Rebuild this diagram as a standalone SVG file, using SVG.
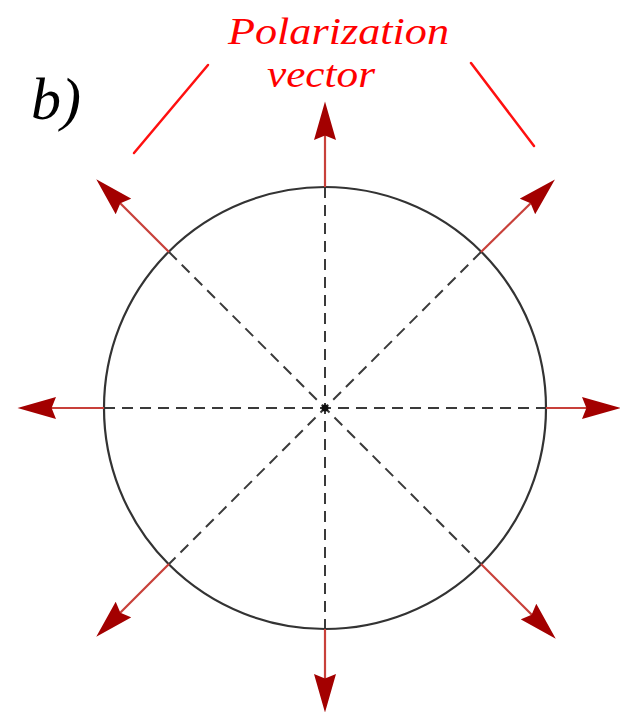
<svg xmlns="http://www.w3.org/2000/svg" width="620" height="712" viewBox="0 0 620 712">
  <style>
    .dash { stroke: #3a3a3a; stroke-width: 2; stroke-dasharray: 11 7; fill: none; }
    .vec { stroke: #c8403a; stroke-width: 2.2; fill: none; marker-end: url(#head); }
    .callout { stroke: #ff1010; stroke-width: 2.5; fill: none; stroke-linecap: round; }
    .lbl { font-family: "Liberation Serif", "Times New Roman", serif; font-style: italic; }
  </style>
  <defs>
    <marker id="head" markerUnits="userSpaceOnUse" markerWidth="40" markerHeight="22" viewBox="0 0 36 20" refX="10" refY="10" orient="auto">
      <path d="M0,0 L35,10 L0,20 L4,10 Z" fill="#a30000"/>
    </marker>
  </defs>
  <rect width="620" height="712" fill="#ffffff"/>

  <g id="label-b">
    <text class="lbl" x="31" y="119" font-size="60" fill="#000000">b)</text>
  </g>

  <g id="label-polarization">
    <text class="lbl" x="228" y="44" font-size="38" fill="#ff0000" textLength="221" lengthAdjust="spacingAndGlyphs">Polarization</text>
    <text class="lbl" x="267" y="87" font-size="38" fill="#ff0000" textLength="108" lengthAdjust="spacingAndGlyphs">vector</text>
  </g>

  <g id="callouts">
    <line class="callout" x1="208" y1="65" x2="134" y2="153"/>
    <line class="callout" x1="471" y1="63" x2="534" y2="146"/>
  </g>

  <g id="sphere">
    <line class="dash" x1="104" y1="408" x2="546" y2="408"/>
    <line class="dash" x1="325" y1="187" x2="325" y2="629"/>
    <line class="dash" x1="169" y1="252" x2="481" y2="564"/>
    <line class="dash" x1="481" y1="252" x2="169" y2="564"/>
    <circle cx="325" cy="408" r="221" fill="none" stroke="#333333" stroke-width="2.2"/>
    <circle cx="325" cy="408" r="3.5" fill="#111111"/>
  </g>

  <g id="connectors">
    <line class="vec" x1="104" y1="408" x2="45" y2="408"/>
    <line class="vec" x1="546" y1="408" x2="593" y2="408"/>
    <line class="vec" x1="325" y1="187" x2="325" y2="129"/>
    <line class="vec" x1="325" y1="629" x2="325" y2="685"/>
    <line class="vec" x1="169" y1="252" x2="115.7" y2="198.7"/>
    <line class="vec" x1="481" y1="252" x2="535.3" y2="198.7"/>
    <line class="vec" x1="169" y1="564" x2="115.7" y2="617.3"/>
    <line class="vec" x1="481" y1="564" x2="536.3" y2="619.3"/>
  </g>
</svg>
